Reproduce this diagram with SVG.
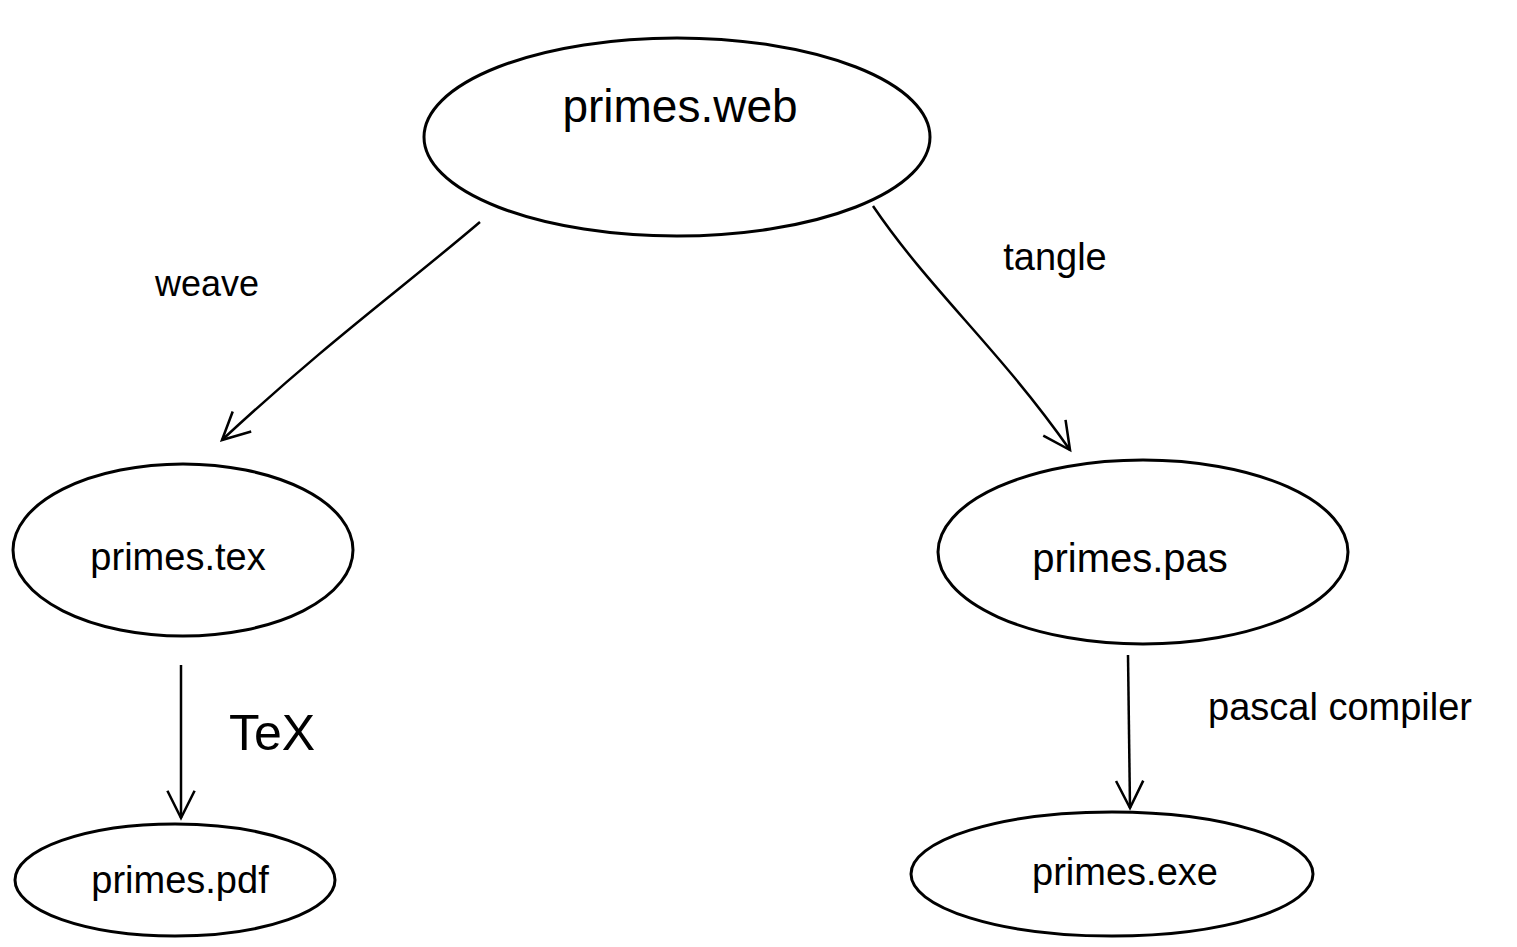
<svg xmlns="http://www.w3.org/2000/svg" width="1517" height="947" viewBox="0 0 1517 947">
<style>
.n{fill:none;stroke:#000;stroke-width:3}
.t{font-family:"Liberation Sans","DejaVu Sans",sans-serif;fill:#000;text-anchor:middle}
.c{fill:none;stroke:#000;stroke-width:2.5;marker-end:url(#v)}
</style>
<defs>
<marker id="v" viewBox="0 0 20 20" refX="18" refY="10" markerWidth="34" markerHeight="34" markerUnits="userSpaceOnUse" orient="auto">
<path d="M2,2 L18,10 L2,18" fill="none" stroke="#000" stroke-width="1.5"/>
</marker>
</defs>
<rect width="1517" height="947" fill="#fff"/>
<g id="web"><ellipse class="n" cx="677" cy="137" rx="253" ry="99"/><text class="t" x="680" y="122" font-size="46">primes.web</text></g>
<g id="tex"><ellipse class="n" cx="183" cy="550" rx="170" ry="86"/><text class="t" x="178" y="570" font-size="38">primes.tex</text></g>
<g id="pas"><ellipse class="n" cx="1143" cy="552" rx="205" ry="92"/><text class="t" x="1130" y="572" font-size="40">primes.pas</text></g>
<g id="pdf"><ellipse class="n" cx="175" cy="880" rx="160" ry="56"/><text class="t" x="180" y="893" font-size="38">primes.pdf</text></g>
<g id="exe"><ellipse class="n" cx="1112" cy="874" rx="201" ry="62"/><text class="t" x="1125" y="885" font-size="38">primes.exe</text></g>
<g id="connectors">
<path class="c" d="M480,222 C400,290 330,340 222,440"/>
<path class="c" d="M873,206 C930,290 1000,350 1070,450"/>
<path class="c" d="M181,665 L181,818"/>
<path class="c" d="M1128,655 L1130,808"/>
<text class="t" x="207" y="296" font-size="36">weave</text>
<text class="t" x="1055" y="270" font-size="38">tangle</text>
<text class="t" x="272" y="750" font-size="50">TeX</text>
<text class="t" x="1340" y="720" font-size="38">pascal compiler</text>
</g>
</svg>
